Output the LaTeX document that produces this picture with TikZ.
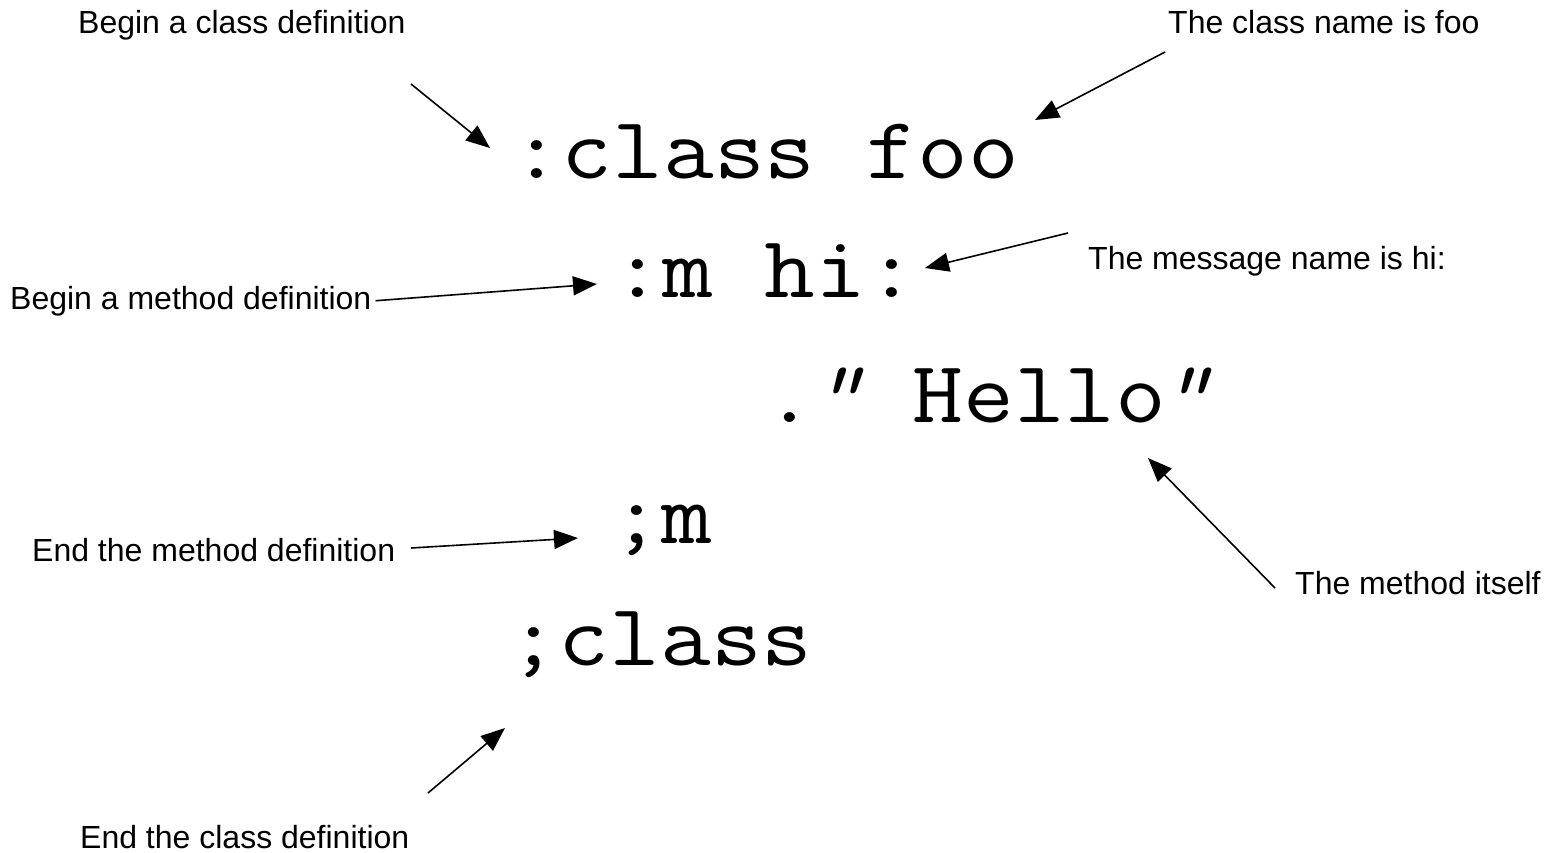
\documentclass[tikz,border=0pt]{standalone}
\usepackage{fontspec}
\setmainfont{Liberation Sans}
\newfontfamily\codefont[FakeStretch=1.12]{Latin Modern Mono}
\newfontfamily\codeslant[FakeStretch=1.12,FakeSlant=0.3]{Latin Modern Mono}
\usetikzlibrary{arrows.meta}
\frenchspacing
\newcommand\cq{{\codeslant"}}
\begin{document}
\begin{tikzpicture}[x=1pt,y=-1pt,
  lbl/.style={anchor=base west,inner sep=0pt,font=\fontsize{32}{38}\selectfont},
  code/.style={anchor=base west,inner sep=0pt,font=\codefont\fontsize{88}{100}\selectfont},
  pointer/.style={line width=1.6pt,-{Triangle[length=24pt,width=19pt]}}]
\useasboundingbox (0,0) rectangle (1547,852);
% code lines
\node[code] (cls)  at (511,178) {:class foo};
\node[code] (meth) at (612,297) {:m hi:};
\node[code] (body) at (764,422) {.\kern-4pt\cq{} Hello\kern-8pt\cq};
\node[code] (endm) at (611,543) {;m};
\node[code] (endc) at (508,665) {;class};
% labels
\node[lbl] (t1) at (78,33) {Begin a class definition};
\node[lbl] (t2) at (1168,33) {The class name is foo};
\node[lbl] (t3) at (1088,269) {The message name is hi:};
\node[lbl] (t4) at (10,309) {Begin a method definition};
\node[lbl] (t5) at (32,561) {End the method definition};
\node[lbl] (t6) at (1295,594) {The method itself};
\node[lbl] (t7) at (80,848) {End the class definition};
% arrow ends
\coordinate (a1s) at (411,84);   \coordinate (a1e) at (490,148);
\coordinate (a2s) at (1165,52);  \coordinate (a2e) at (1035,120);
\coordinate (a3s) at (1068,233); \coordinate (a3e) at (925,268);
\coordinate (a4s) at (t4.east);  \coordinate (a4e) at (597,284);
\coordinate (a5s) at (1275,588); \coordinate (a5e) at (1148,458);
\coordinate (a6s) at (411,548);  \coordinate (a6e) at (578,538);
\coordinate (a7s) at (428,793);  \coordinate (a7e) at (505,728);
\draw[pointer] (a1s) -- (a1e);
\draw[pointer] (a2s) -- (a2e);
\draw[pointer] (a3s) -- (a3e);
\draw[pointer] ([xshift=4pt]a4s) -- (a4e);
\draw[pointer] (a5s) -- (a5e);
\draw[pointer] (a6s) -- (a6e);
\draw[pointer] (a7s) -- (a7e);
\end{tikzpicture}
\end{document}
